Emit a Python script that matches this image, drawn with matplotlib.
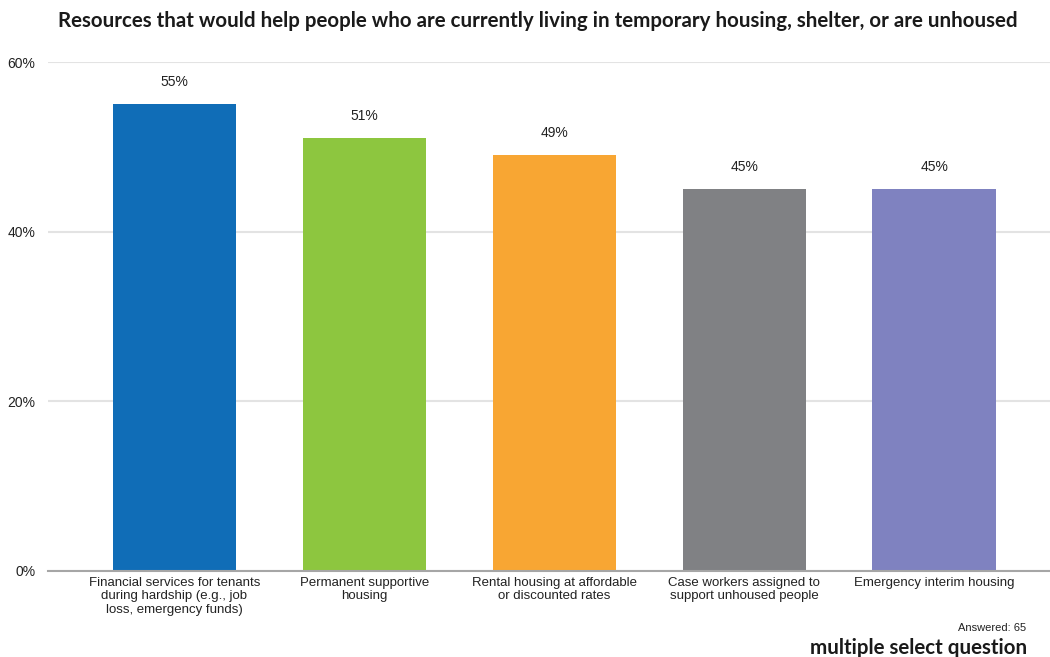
import matplotlib.pyplot as plt

# data
categories = ["Financial services for tenants\nduring hardship (e.g., job\nloss, emergency funds)",
              "Permanent supportive\nhousing",
              "Rental housing at affordable\nor discounted rates",
              "Case workers assigned to\nsupport unhoused people",
              "Emergency interim housing"]
values = [55, 51, 49, 45, 45]
colors = ["#106db7", "#8dc63f", "#f8a633", "#808184", "#7f82c0"]
yticks = [0, 20, 40, 60]

fig = plt.figure(figsize=(10.5, 6.57), dpi=100)
ax = fig.add_axes([0.0457, 0.1309, 0.9543, 0.7747])

x = list(range(len(values)))
bars = ax.bar(x, values, width=0.65, color=colors, zorder=3)
for xi, v in zip(x, values):
    ax.annotate(f"{v}%", (xi, v), xytext=(0, 11), textcoords="offset points",
                ha="center", va="bottom", fontsize=10, family="Liberation Sans", color="#222222")

ax.set_xlim(-0.666, 4.61)
ax.set_ylim(0, 60)
ax.set_yticks(yticks)
ax.set_yticklabels([f"{t}%" for t in yticks], family="Liberation Sans", fontsize=10, color="#222222")
ax.set_xticks(x)
ax.set_xticklabels(categories, family="Liberation Sans", fontsize=9.5, color="#222222", linespacing=1.2)
ax.tick_params(axis="both", length=0)
ax.tick_params(axis="y", pad=9)
ax.tick_params(axis="x", pad=4)
ax.grid(axis="y", color="#e3e3e3", linewidth=1.5, zorder=0)
for s in ["top", "right", "left"]:
    ax.spines[s].set_visible(False)
ax.spines["bottom"].set_color("#a6a6a6")
ax.spines["bottom"].set_linewidth(1.5)
ax.spines["bottom"].set_zorder(4)

fig.text(0.512, 0.968, "Resources that would help people who are currently living in temporary housing, shelter, or are unhoused",
         ha="center", va="center", fontsize=14.8, fontweight="bold", family="Lato", color="#1a1a1a")
fig.text(0.977, 0.044, "Answered: 65", ha="right", va="center", fontsize=8, family="Liberation Sans", color="#222222")
fig.text(0.978, 0.013, "multiple select question", ha="right", va="center", fontsize=14.8,
         fontweight="bold", family="Lato", color="#1a1a1a")

fig.savefig("out.png", dpi=100)
